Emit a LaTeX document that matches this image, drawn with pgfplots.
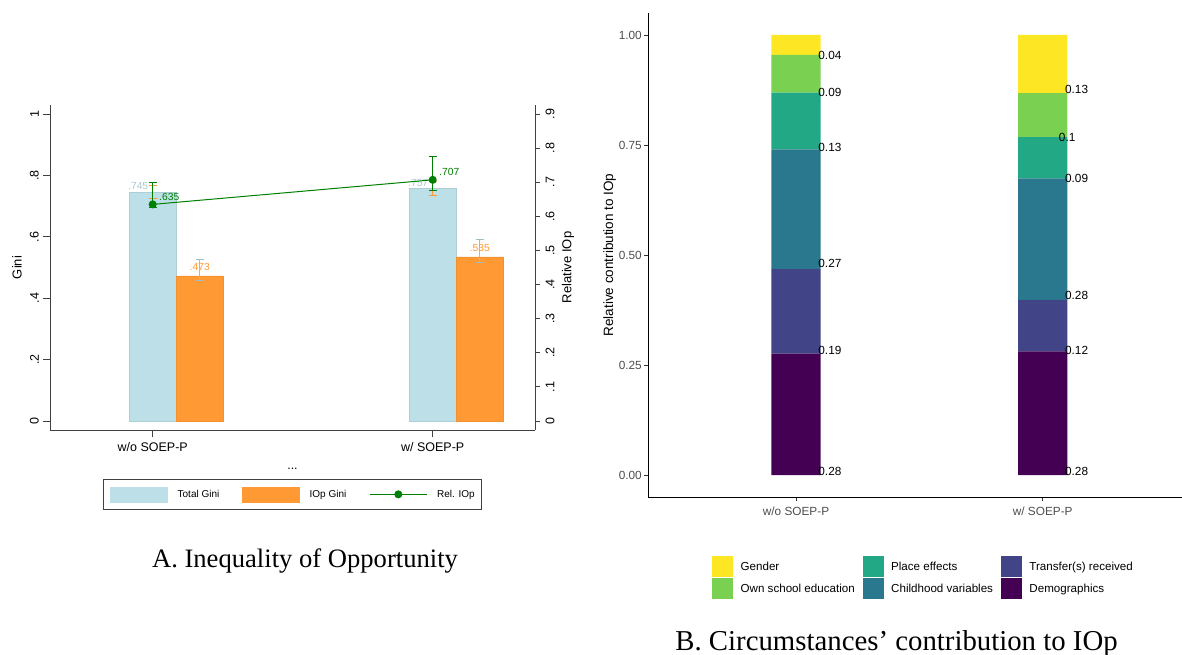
\documentclass[border=0pt]{standalone}
\usepackage{fontspec}
\setmainfont{Liberation Sans}
\newfontfamily\capfont{Liberation Serif}
\usepackage{pgfplots}
\usepackage{pgfplotstable}
\pgfplotsset{compat=1.18}
\definecolor{ltblue}{RGB}{189,223,232}
\definecolor{stor}{RGB}{254,153,51}
\definecolor{stgreen}{RGB}{0,128,0}
\definecolor{vA}{HTML}{440154}
\definecolor{vB}{HTML}{414487}
\definecolor{vC}{HTML}{2A788E}
\definecolor{vD}{HTML}{22A884}
\definecolor{vE}{HTML}{7AD151}
\definecolor{vF}{HTML}{FDE725}
\definecolor{ggtick}{HTML}{4D4D4D}

\pgfplotstableread{
x y ep em lab
0 0.745 0.021 0.021 .745
1 0.757 0.022 0.022 .757
}\totalgini
\pgfplotstableread{
x y ep em lab
0.168 0.473 0.054 0.014 .473
1.168 0.535 0.055 0.019 .535
}\iopgini
\pgfplotstableread{
x y ep em lab
0 0.635 0.064 0.010 .635
1 0.707 0.070 0.030 .707
}\reliop
\pgfplotstableread{
x demo transfer child place school gender
1 0.276 0.192 0.272 0.129 0.086 0.045
2 0.281 0.117 0.276 0.094 0.100 0.132
}\contrib
\pgfplotstableread{
x y lab
1.09 0.000 0.28
1.09 0.275 0.19
1.09 0.472 0.27
1.09 0.735 0.13
1.09 0.860 0.09
1.09 0.944 0.04
2.09 0.000 0.28
2.09 0.275 0.12
2.09 0.400 0.28
2.09 0.664 0.09
2.065 0.758 0.1
2.09 0.866 0.13
}\contriblabels

\begin{document}
\begin{tikzpicture}
\useasboundingbox (0pt,0pt) rectangle (1182pt,654pt);
% ---------------- Panel A: bars (left axis) ----------------
\begin{axis}[
  at={(50pt,224pt)}, anchor=south west,
  scale only axis, width=485pt, height=325pt,
  xmin=-0.3668, xmax=1.3654, ymin=-0.0293, ymax=1.0293,
  axis x line*=bottom, axis y line*=left,
  axis line style={black!75, line width=0.8pt, -},
  tick align=outside, major tick length=7pt,
  tick style={black!75, line width=0.8pt},
  xtick={0,1}, xticklabels={w/o SOEP-P, w/ SOEP-P},
  ytick={0,0.2,0.4,0.6,0.8,1}, yticklabels={0,.2,.4,.6,.8,1},
  /pgf/number format/assume math mode=true,
  ticklabel style={font=\fontsize{12.5}{14}\selectfont},
  yticklabel style={rotate=90, anchor=south, inner sep=4pt},
  xticklabel style={anchor=north, inner sep=5pt},
  xlabel={...},
  every axis x label/.style={at={(axis description cs:0.5,-0.12)}, anchor=base, font=\fontsize{12.5}{14}\selectfont},
  ylabel={Gini},
  every axis y label/.style={at={(axis description cs:-0.068,0.5)}, rotate=90, anchor=center, font=\fontsize{13}{15}\selectfont},
  point meta=explicit symbolic,
]
\addplot[ybar, bar width=0.168, bar shift=0pt, fill=ltblue, draw=ltblue!92!black,
  nodes near coords,
  every node near coord/.style={anchor=south, xshift=-14.5pt, inner sep=2pt, text=ltblue!90!black, font=\fontsize{10.3}{12}\selectfont},
  error bars/.cd, y dir=both, y explicit,
  error bar style={stor, line width=0.8pt},
  error mark options={stor, rotate=90, mark size=4pt, line width=0.8pt}]
  table[x=x, y=y, y error plus=ep, y error minus=em, meta=lab] {\totalgini};
\addplot[ybar, bar width=0.168, bar shift=0pt, fill=stor, draw=stor!95!black,
  nodes near coords,
  every node near coord/.style={anchor=south, yshift=2.5pt, inner sep=2pt, text=stor, font=\fontsize{10.3}{12}\selectfont},
  error bars/.cd, y dir=both, y explicit,
  error bar style={ltblue!85!black, line width=0.8pt},
  error mark options={ltblue!85!black, rotate=90, mark size=4pt, line width=0.8pt}]
  table[x=x, y=y, y error plus=ep, y error minus=em, meta=lab] {\iopgini};
\end{axis}
% ---------------- Panel A: relative IOp (right axis) ----------------
\begin{axis}[
  at={(50pt,224pt)}, anchor=south west,
  scale only axis, width=485pt, height=325pt,
  xmin=-0.3668, xmax=1.3654, ymin=-0.02638, ymax=0.92638,
  axis x line=none, axis y line*=right,
  axis line style={black!75, line width=0.8pt, -},
  tick align=outside, major tick length=5pt,
  tick style={black!75, line width=0.8pt},
  ytick={0,0.1,0.2,0.3,0.4,0.5,0.6,0.7,0.8,0.9},
  yticklabels={0,.1,.2,.3,.4,.5,.6,.7,.8,.9},
  /pgf/number format/assume math mode=true,
  ticklabel style={font=\fontsize{12.5}{14}\selectfont},
  yticklabel style={rotate=90, anchor=north, inner sep=5.5pt},
  ylabel={Relative IOp},
  every axis y label/.style={at={(axis description cs:1.068,0.5)}, rotate=90, anchor=center, font=\fontsize{13}{15}\selectfont},
  point meta=explicit symbolic,
  legend style={at={(0.5,-0.198)}, anchor=center, legend columns=3,
    draw=black!75, line width=0.6pt, inner xsep=7pt, inner ysep=7pt,
    font=\fontsize{10}{12}\selectfont,
    nodes={inner sep=0pt, text depth=0pt},
    /tikz/every odd column/.append style={column sep=9.7pt},
    /tikz/every even column/.append style={column sep=23pt}},
  legend cell align=left,
]
\addlegendimage{legend image code/.code={\fill[ltblue] (0pt,-7.5pt) rectangle (57pt,7.5pt);}}
\addlegendentry{Total Gini}
\addlegendimage{legend image code/.code={\fill[stor] (0pt,-7.5pt) rectangle (57pt,7.5pt);}}
\addlegendentry{IOp Gini}
\addplot[stgreen, line width=1pt, mark=*, mark size=3.5pt, mark options={fill=stgreen, draw=stgreen},
  legend image code/.code={\draw[stgreen, line width=1pt] (0pt,0pt) -- (57pt,0pt); \fill[stgreen] (28.5pt,0pt) circle (3.5pt);},
  nodes near coords,
  every node near coord/.style={anchor=south west, xshift=6pt, yshift=3.3pt, inner sep=0pt, text=stgreen, font=\fontsize{10.3}{12}\selectfont},
  error bars/.cd, y dir=both, y explicit,
  error bar style={stgreen, line width=0.8pt},
  error mark options={stgreen, rotate=90, mark size=4pt, line width=0.8pt}]
  table[x=x, y=y, y error plus=ep, y error minus=em, meta=lab] {\reliop};
\addlegendentry{Rel. IOp}
\end{axis}
% ---------------- Panel B: stacked bars ----------------
\begin{axis}[
  at={(648pt,157pt)}, anchor=south west,
  scale only axis, width=534pt, height=484pt,
  xmin=0.4, xmax=2.5646, ymin=-0.05, ymax=1.05,
  axis x line*=bottom, axis y line*=left,
  axis line style={black, line width=0.9pt, -},
  tick align=outside, major tick length=4pt,
  tick style={black!80, line width=0.8pt},
  ybar stacked, bar width=0.2,
  xtick={1,2}, xticklabels={w/o SOEP-P, w/ SOEP-P},
  ytick={0,0.25,0.5,0.75,1}, yticklabels={0.00,0.25,0.50,0.75,1.00},
  /pgf/number format/assume math mode=true,
  ticklabel style={font=\fontsize{11.8}{13}\selectfont, text=ggtick},
  yticklabel style={anchor=east, inner sep=2pt},
  xticklabel style={anchor=north, inner sep=6pt},
  ylabel={Relative contribution to IOp},
  every axis y label/.style={at={(axis description cs:-0.072,0.5)}, rotate=90, anchor=center, font=\fontsize{13.5}{15}\selectfont},
]
\addplot[fill=vA, draw=none] table[x=x, y=demo] {\contrib};
\addplot[fill=vB, draw=none] table[x=x, y=transfer] {\contrib};
\addplot[fill=vC, draw=none] table[x=x, y=child] {\contrib};
\addplot[fill=vD, draw=none] table[x=x, y=place] {\contrib};
\addplot[fill=vE, draw=none] table[x=x, y=school] {\contrib};
\addplot[fill=vF, draw=none] table[x=x, y=gender] {\contrib};
\end{axis}
% ---------------- Panel B: labels and legend ----------------
\begin{axis}[
  at={(648pt,157pt)}, anchor=south west,
  scale only axis, width=534pt, height=484pt,
  xmin=0.4, xmax=2.5646, ymin=-0.05, ymax=1.05,
  hide axis,
  point meta=explicit symbolic,
  legend style={at={(0.1199,-0.1219)}, anchor=north west, legend columns=3,
    draw=none, fill=none, inner sep=0pt,
    font=\fontsize{11.6}{13}\selectfont,
    nodes={inner sep=0pt, text depth=0pt},
    row sep=1.7pt,
    /tikz/every odd column/.append style={column sep=8pt},
    /tikz/every even column/.append style={column sep=8pt}},
  legend cell align=left,
]
\addlegendimage{legend image code/.code={\fill[vF] (0pt,-10pt) rectangle (20pt,10pt);}}
\addlegendentry{Gender}
\addlegendimage{legend image code/.code={\fill[vD] (0pt,-10pt) rectangle (20pt,10pt);}}
\addlegendentry{Place effects}
\addlegendimage{legend image code/.code={\fill[vB] (0pt,-10pt) rectangle (20pt,10pt);}}
\addlegendentry{Transfer(s) received}
\addlegendimage{legend image code/.code={\fill[vE] (0pt,-10pt) rectangle (20pt,10pt);}}
\addlegendentry{Own school education}
\addlegendimage{legend image code/.code={\fill[vC] (0pt,-10pt) rectangle (20pt,10pt);}}
\addlegendentry{Childhood variables}
\addlegendimage{legend image code/.code={\fill[vA] (0pt,-10pt) rectangle (20pt,10pt);}}
\addlegendentry{Demographics}
\addplot[draw=none, mark=none, forget plot, nodes near coords,
  every node near coord/.style={anchor=base west, inner sep=0pt, text=black, font=\fontsize{11.8}{13}\selectfont}]
  table[x=x, y=y, meta=lab] {\contriblabels};
\end{axis}
% ---------------- Captions ----------------
\node[anchor=base, inner sep=0pt, font=\capfont\fontsize{26.6}{30}\selectfont] at (305pt,87pt) {A. Inequality of Opportunity};
\node[anchor=base, inner sep=0pt, font=\capfont\fontsize{28.8}{32}\selectfont] at (896.5pt,4pt) {B. Circumstances’ contribution to IOp};
\end{tikzpicture}
\end{document}
